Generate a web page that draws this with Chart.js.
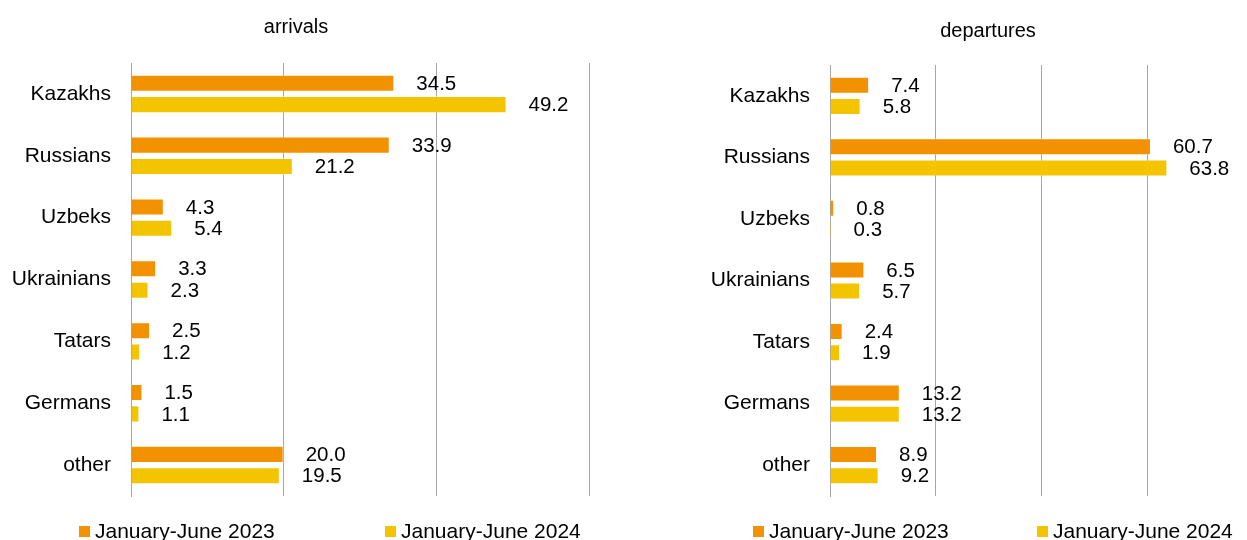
<!DOCTYPE html>
<html>
<head>
<meta charset="utf-8">
<title>Arrivals and departures by nationality</title>
<script src="https://cdn.jsdelivr.net/npm/chart.js@4.4.1/dist/chart.umd.min.js"></script>
<style>
  html, body { margin: 0; padding: 0; background: #fff; }
  body { width: 1247px; height: 540px; overflow: hidden; position: relative; }
  .box { position: absolute; top: 0; height: 540px; }
  #box-arr { left: 0; width: 592px; }
  #box-dep { left: 700px; width: 576px; }
</style>
</head>
<body>
<div class="box" id="box-arr"><canvas id="chart-arrivals" width="592" height="540"></canvas></div>
<div class="box" id="box-dep"><canvas id="chart-departures" width="576" height="540"></canvas></div>

<script>
/* ─── Data ─── */
var categories = ['Kazakhs', 'Russians', 'Uzbeks', 'Ukrainians', 'Tatars', 'Germans', 'other'];
var seriesNames = ['January-June 2023', 'January-June 2024'];

var arrivals2023 = [34.5, 33.9, 4.3, 3.3, 2.5, 1.5, 20.0];
var arrivals2024 = [49.2, 21.2, 5.4, 2.3, 1.2, 1.1, 19.5];

var departures2023 = [7.4, 60.7, 0.8, 6.5, 2.4, 13.2, 8.9];
var departures2024 = [5.8, 63.8, 0.3, 5.7, 1.9, 13.2, 9.2];

var FONT = "'Liberation Sans', Arial, sans-serif";
var ORANGE = '#f39200';
var YELLOW = '#f5c400';
var GRID = '#a6a6a6';

// value labels to the right of each bar
var valueLabels = {
  id: 'valueLabels',
  afterDatasetsDraw: function (chart) {
    var ctx = chart.ctx;
    ctx.save();
    ctx.font = '20.5px ' + FONT;
    ctx.fillStyle = '#000';
    ctx.textAlign = 'left';
    ctx.textBaseline = 'middle';
    chart.data.datasets.forEach(function (ds, i) {
      chart.getDatasetMeta(i).data.forEach(function (bar, j) {
        ctx.fillText(ds.data[j].toFixed(1), bar.x + 22, bar.y + 1);
      });
    });
    ctx.restore();
  }
};

// title + legend with small squares at fixed spots
var panelText = {
  id: 'panelText',
  afterDraw: function (chart, args, opts) {
    var ctx = chart.ctx;
    ctx.save();
    ctx.textBaseline = 'middle';
    ctx.fillStyle = '#000';
    ctx.font = '20px ' + FONT;
    ctx.textAlign = 'center';
    ctx.fillText(opts.title, opts.titleX, opts.titleY);

    ctx.font = '21px ' + FONT;
    ctx.textAlign = 'left';
    chart.data.datasets.forEach(function (ds, i) {
      var x = opts.legendXs[i];
      ctx.fillStyle = ds.backgroundColor;
      ctx.fillRect(x, 526, 11, 11);
      ctx.fillStyle = '#000';
      ctx.fillText(ds.label, x + 16, 532);
    });
    ctx.restore();
  }
};

function makeChart(canvasId, title, titleX, titleY, d1, d2, xMax, axisWidth, padTop, padRight, legendXs) {
  return new Chart(document.getElementById(canvasId), {
    type: 'bar',
    data: {
      labels: categories,
      datasets: [
        { label: seriesNames[0], data: d1, backgroundColor: ORANGE, borderColor: 'rgba(255,255,255,0.4)', borderWidth: 1 },
        { label: seriesNames[1], data: d2, backgroundColor: YELLOW, borderColor: 'rgba(255,255,255,0.4)', borderWidth: 1 }
      ]
    },
    options: {
      indexAxis: 'y',
      responsive: false,
      animation: false,
      devicePixelRatio: 1,
      categoryPercentage: 0.69,
      barPercentage: 0.8,
      layout: { padding: { left: 0, right: padRight, top: padTop, bottom: 44 } },
      plugins: {
        legend: { display: false },
        tooltip: { enabled: false },
        title: { display: false },
        panelText: { title: title, titleX: titleX, titleY: titleY, legendXs: legendXs }
      },
      scales: {
        x: {
          min: 0,
          max: xMax,
          ticks: { display: false, stepSize: 20 },
          grid: { color: GRID, lineWidth: 1, drawTicks: false },
          border: { display: false }
        },
        y: {
          grid: { display: false, drawTicks: false },
          border: { display: true, color: GRID, width: 1 },
          ticks: { color: '#000', padding: 20, font: { family: FONT, size: 21 } },
          afterFit: function (scale) { scale.width = axisWidth; }
        }
      }
    },
    plugins: [valueLabels, panelText]
  });
}

makeChart('chart-arrivals', 'arrivals', 296, 27, arrivals2023, arrivals2024, 60, 131, 63, 3, [79, 385]);
makeChart('chart-departures', 'departures', 288, 31, departures2023, departures2024, 80, 130, 65, 23, [53, 337]);
</script>
</body>
</html>
